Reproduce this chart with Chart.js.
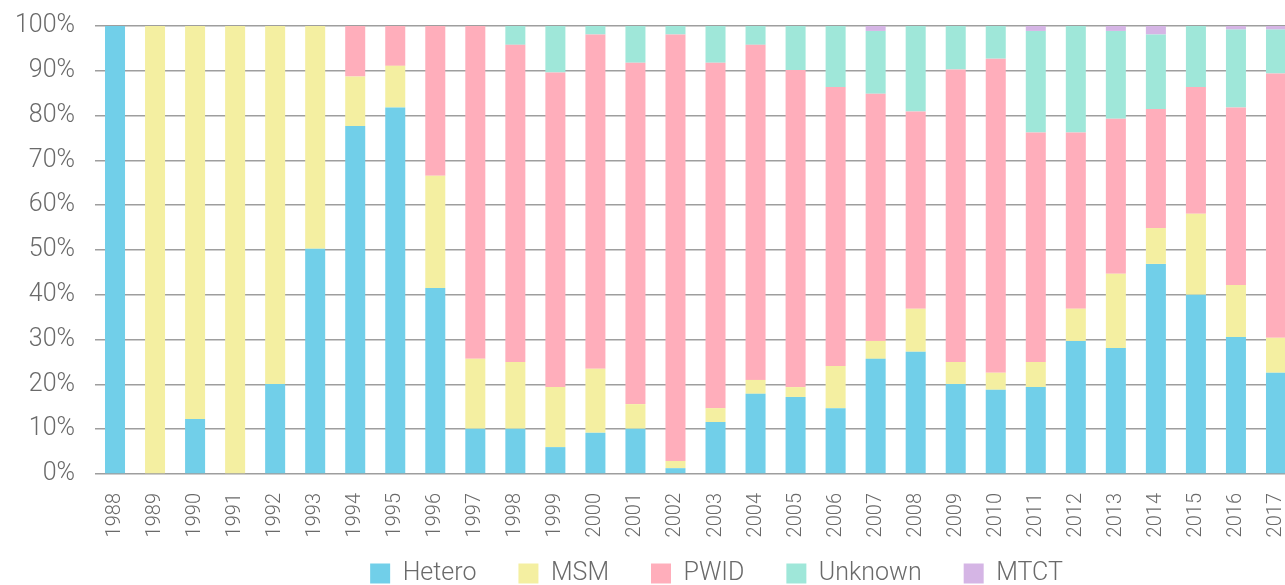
<!DOCTYPE html>
<html>
<head>
<meta charset="utf-8">
<script src="https://cdn.jsdelivr.net/npm/chart.js@4.4.1/dist/chart.umd.min.js"></script>
<style>
  html, body { margin: 0; padding: 0; background: #fff; overflow: hidden; }
  #wrap { position: relative; width: 1296px; height: 621px; }
</style>
</head>
<body>
<div id="wrap"><canvas id="grafico"></canvas></div>
<script>
const years = ['1988', '1989', '1990', '1991', '1992', '1993', '1994', '1995', '1996', '1997',
    '1998', '1999', '2000', '2001', '2002', '2003', '2004', '2005', '2006', '2007',
    '2008', '2009', '2010', '2011', '2012', '2013', '2014', '2015', '2016', '2017'];

// share of cases per year, %
const hetero  = [100, 0, 12.3, 0, 20.1, 50.3, 77.7, 81.8, 41.5, 10.1,
    10.1, 6.0, 9.2, 10.1, 1.3, 11.6, 17.9, 17.2, 14.7, 25.7,
    27.3, 20.1, 18.8, 19.4, 29.7, 28.1, 46.9, 40.0, 30.6, 22.6];
const msm     = [0, 100, 87.7, 100, 79.9, 49.7, 11.0, 9.3, 25.1, 15.6,
    14.9, 13.4, 14.3, 5.5, 1.6, 3.1, 3.1, 2.2, 9.4, 4.0,
    9.6, 4.9, 3.8, 5.6, 7.2, 16.6, 8.0, 18.1, 11.6, 7.8];
const pwid    = [0, 0, 0, 0, 0, 0, 11.3, 8.9, 33.4, 74.3,
    70.8, 70.2, 74.6, 76.2, 95.2, 77.1, 74.8, 70.8, 62.3, 55.2,
    44.0, 65.3, 70.1, 51.2, 39.3, 34.6, 26.6, 28.3, 39.6, 59.0];
const unknown = [0, 0, 0, 0, 0, 0, 0, 0, 0, 0,
    4.2, 10.4, 1.9, 8.2, 1.9, 8.2, 4.2, 9.8, 13.6, 14.0,
    19.1, 9.7, 7.3, 22.7, 23.8, 19.6, 16.6, 13.6, 17.4, 9.8];
const mtct    = [0, 0, 0, 0, 0, 0, 0, 0, 0, 0,
    0, 0, 0, 0, 0, 0, 0, 0, 0, 1.1,
    0, 0, 0, 1.1, 0, 1.1, 1.9, 0, 0.8, 0.8];

const yTicks = [0, 10, 20, 30, 40, 50, 60, 70, 80, 90, 100];

const colores = {
    hetero: '#71cfe9',
    msm: '#f4efa1',
    pwid: '#ffaebb',
    unknown: '#9fe7d9',
    mtct: '#d5b5e5'
};

const fuente = "Roboto, 'Liberation Sans', sans-serif";
const gris = '#6a6a6a';

// the legend sits right of the plot centre and close under the years in the original
const moverLeyenda = {
    id: 'moverLeyenda',
    afterLayout(chart) {
        const lg = chart.legend;
        lg.left += 63;
        lg.right += 63;
        lg.top -= 25;
        lg.bottom -= 25;
    }
};

function serie(label, data, color) {
    return {
        label: label,
        data: data,
        backgroundColor: color,
        borderWidth: 0,
        categoryPercentage: 1,
        barPercentage: 0.5
    };
}

new Chart(document.getElementById('grafico'), {
    type: 'bar',
    data: {
        labels: years,
        datasets: [
            serie('Hetero', hetero, colores.hetero),
            serie('MSM', msm, colores.msm),
            serie('PWID', pwid, colores.pwid),
            serie('Unknown', unknown, colores.unknown),
            serie('MTCT', mtct, colores.mtct)
        ]
    },
    options: {
        responsive: true,
        maintainAspectRatio: false,
        animation: false,
        layout: { padding: { left: 11, right: 0, top: 26, bottom: 0 } },
        plugins: {
            tooltip: { enabled: false },
            legend: {
                position: 'bottom',
                labels: {
                    boxWidth: 20,
                    boxHeight: 20,
                    padding: 42,
                    color: gris,
                    font: { family: fuente, size: 25, weight: 300 }
                }
            }
        },
        scales: {
            x: {
                stacked: true,
                grid: { display: false, drawTicks: false },
                border: { display: false },
                ticks: {
                    color: gris,
                    padding: 19,
                    minRotation: 90,
                    maxRotation: 90,
                    autoSkip: false,
                    font: { family: fuente, size: 20, weight: 300 }
                },
                afterFit: function (scale) {
                    scale.height = 70;
                    scale.paddingLeft = 0;
                    scale.paddingRight = 0;
                }
            },
            y: {
                stacked: true,
                min: 0,
                max: 100,
                afterBuildTicks: function (scale) {
                    scale.ticks = yTicks.map(v => ({ value: v }));
                },
                afterFit: function (scale) {
                    scale.width = 84;
                    scale.paddingTop = 0;
                    scale.paddingBottom = 0;
                },
                grid: { color: '#9e9e9e', lineWidth: 1.5, drawTicks: false },
                border: { display: false },
                ticks: {
                    color: gris,
                    padding: 20,
                    font: { family: fuente, size: 25, weight: 300 },
                    callback: v => v + '%'
                }
            }
        }
    },
    plugins: [moverLeyenda]
});
</script>
</body>
</html>
